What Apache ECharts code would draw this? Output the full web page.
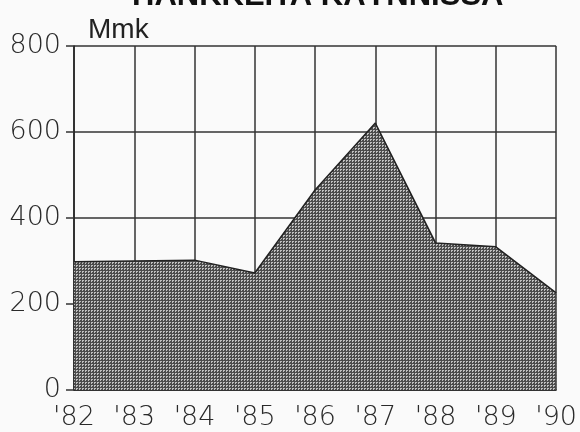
<!DOCTYPE html>
<html lang="fi">

<head>
    <meta charset="UTF-8">
    <title>Hankkeita käynnissä</title>
    <script src="https://cdn.jsdelivr.net/npm/echarts@6/dist/echarts.min.js"></script>
    <style>
        html,
        body {
            margin: 0;
            padding: 0;
            background: #fafafa;
        }

        #main {
            width: 580px;
            height: 432px;
        }
    </style>
</head>

<body>
    <div id="main"></div>
    <script>
        // vuodet ja arvot (Mmk)
        let years = ["'82", "'83", "'84", "'85", "'86", "'87", "'88", "'89", "'90"];
        let values = [298, 300, 302, 272, 465, 621, 342, 333, 226];
        let yTicks = [0, 200, 400, 600, 800];

        // rasterikuvio täytölle
        function makePattern() {
            let c = document.createElement('canvas');
            c.width = 3;
            c.height = 3;
            let ctx = c.getContext('2d');
            ctx.fillStyle = '#4c4c4c';
            ctx.fillRect(0, 0, 3, 3);
            ctx.fillStyle = '#c0c0c0';
            ctx.fillRect(1, 1, 2, 1);
            ctx.fillRect(1, 2, 1, 1);
            return c;
        }

        let myChart = echarts.init(document.getElementById('main'));
        let font = '"Liberation Sans", Arial, sans-serif';
        let labelFont = '"DejaVu Sans", sans-serif';
        let option = {
            backgroundColor: '#fafafa',
            animation: false,
            graphic: [{
                type: 'text',
                left: 132,
                top: -19,
                style: {
                    text: 'HANKKEITA KÄYNNISSÄ',
                    font: 'bold 31px ' + font,
                    fill: '#111'
                }
            }],
            grid: {
                left: 74,
                right: 23,
                top: 46,
                bottom: 42
            },
            xAxis: {
                type: 'category',
                data: years,
                boundaryGap: false,
                axisLine: { lineStyle: { color: '#222', width: 1.5 } },
                axisTick: { show: false },
                axisLabel: {
                    margin: 14,
                    fontFamily: labelFont,
                    fontWeight: 200,
                    fontSize: 27,
                    color: '#2a2a2a'
                },
                splitLine: { show: true, lineStyle: { color: '#333', width: 1.5 } }
            },
            yAxis: {
                type: 'value',
                min: yTicks[0],
                max: yTicks[yTicks.length - 1],
                interval: 200,
                name: 'Mmk',
                nameLocation: 'end',
                nameGap: 2,
                nameTextStyle: {
                    align: 'left',
                    padding: [0, 0, 0, 14],
                    fontFamily: font,
                    fontSize: 28,
                    color: '#222'
                },
                axisLine: { show: true, lineStyle: { color: '#222', width: 1.5 } },
                axisTick: { show: true, length: 8, lineStyle: { color: '#333', width: 1.5 } },
                axisLabel: {
                    margin: 13,
                    fontFamily: labelFont,
                    fontWeight: 200,
                    fontSize: 27,
                    color: '#2a2a2a'
                },
                splitLine: { show: true, lineStyle: { color: '#333', width: 1.5 } }
            },
            series: [{
                type: 'line',
                data: values,
                symbol: 'none',
                lineStyle: { color: '#222', width: 1.5 },
                areaStyle: {
                    color: { image: makePattern(), repeat: 'repeat' },
                    opacity: 1
                }
            }]
        };
        myChart.setOption(option);
    </script>
</body>

</html>
